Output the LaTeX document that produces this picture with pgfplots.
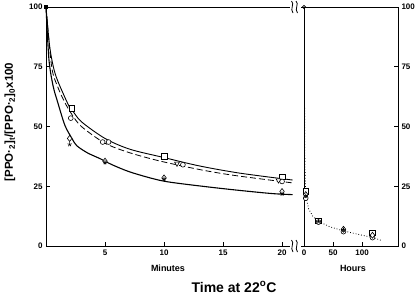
\documentclass[border=0pt]{standalone}
\usepackage{fontspec}
\setmainfont{Liberation Sans}
\usepackage{pgfplots}
\pgfplotsset{compat=1.18}
\pgfplotsset{
  common/.style={
    scale only axis, anchor=south west, height=239pt,
    ymin=0, ymax=100, ytick={0,25,50,75,100},
    tick align=inside, major tick length=4pt,
    tick style={black, line width=0.7pt},
    axis line style={line width=0.8pt},
    ticklabel style={font=\fontsize{8}{9}\selectfont\bfseries},
    /pgf/number format/assume math mode=true,
    xtick pos=bottom, clip=false,
    every axis plot/.append style={black},
  },
  mk/.style={only marks, mark size=2.8pt, mark options={solid, line width=0.6pt, fill=white}},
}
\begin{document}
\begin{tikzpicture}[x=1pt,y=1pt]
\path[use as bounding box] (0,0) rectangle (418,298);
\begin{axis}[common, at={(46pt,52pt)}, width=258pt,
  xmin=0, xmax=21.86, xtick={5,10,15,20}, ytick pos=left]
% upper solid curve
\addplot[line width=0.9pt, smooth, tension=0.5] coordinates {
 (0,100) (0.3,84) (0.62,75) (1,69) (1.9,59) (2.2,57) (3,52) (5,45) (7.1,40.5) (10,37) (13,33.5) (16.4,30.5) (20.9,27.6)};
% middle dashed curve
\addplot[line width=0.8pt, dash pattern=on 6pt off 3pt, smooth, tension=0.5] coordinates {
 (0,100) (0.48,75) (1,66.5) (1.6,60) (2.2,55) (3,50) (5,43) (7.1,39) (9.7,35.5) (13,32) (16,29.5) (20.9,26.4)};
% lower curve
\addplot[line width=1.1pt, smooth, tension=0.5] coordinates {
 (0,100) (0.25,78) (0.6,67) (1,60) (1.6,50.5) (2.2,45) (2.6,42) (3.5,39) (4.6,36.5) (5.6,34) (7.1,31) (9.2,28) (10.8,26.5) (15,24) (19,22) (20.9,21.5)};
% markers
\addplot[mk, mark=square*, mark size=1.6pt, mark options={fill=black}] coordinates {(0,100)};
\addplot[mk, mark=square*] coordinates {(2.2,57.5) (10,37.5) (20,29)};
\addplot[mk, mark=*, mark size=2.4pt] coordinates {(2.1,53.5) (4.8,43.5) (5.3,43.5) (11.6,34) (20,27)};
\addplot[mk, mark=triangle*, mark options={rotate=180, solid, fill=white, line width=0.6pt}] coordinates {(11.1,34.5) (19.7,27.5)};
\addplot[mk, mark=diamond*, mark size=3pt] coordinates {(2.0,45) (5,35.5) (10,28.5) (20,22.8)};
\addplot[mk, mark=star, mark size=2.2pt] coordinates {(2.0,42.5) (5,35) (10,28) (20,21.8)};
\end{axis}
\begin{axis}[common, at={(304pt,52pt)}, width=94pt,
  xmin=0, xmax=162, xtick={0,50,100}, ytick pos=right, yticklabel pos=right]
\addplot[line width=0.8pt, dotted] coordinates {
 (0.8,100) (1,60) (1.5,35) (3,21) (8,15.5) (15,12.5) (25,10.3) (45,8) (68,6.3) (95,4.8) (118,3.6) (135,2.2)};
\addplot[mk, mark=o, mark size=1.6pt] coordinates {(0,100)};
\addplot[mk, mark=square*] coordinates {(3,23) (25,10.5) (118,5.5)};
\addplot[mk, mark=*, mark size=2.4pt] coordinates {(3,20) (25,10) (68,6) (118,3.5)};
\addplot[mk, mark=diamond*, mark size=3pt] coordinates {(3,21.5) (68,7) (118,4.5)};
\addplot[mk, mark=star, mark size=2.2pt] coordinates {(3,21) (25,10.2) (68,6.8)};
\end{axis}
% axis breaks
\fill[white] (290,297) rectangle (301,285);
\fill[white] (290,58) rectangle (301,46);
\draw[line width=0.8pt] (291.5,297) .. controls (295,294) and (289.5,289) .. (293,285);
\draw[line width=0.8pt] (296,297) .. controls (299.5,294) and (294,289) .. (297.5,285);
\draw[line width=0.8pt] (291.5,58) .. controls (295,55) and (289.5,50) .. (293,46);
\draw[line width=0.8pt] (296,58) .. controls (299.5,55) and (294,50) .. (297.5,46);
% labels
\node[rotate=90, font=\fontsize{11.5}{14}\selectfont\bfseries] at (10,176)
  {[PPO·\textsubscript{2}]\textsubscript{t}/[PPO·\textsubscript{2}]\textsubscript{0}x100};
\node[font=\fontsize{9}{10}\selectfont\bfseries] at (168,30) {Minutes};
\node[font=\fontsize{9}{10}\selectfont\bfseries] at (353,30) {Hours};
\node[font=\fontsize{14}{16}\selectfont\bfseries] at (234,11) {Time at 22\textsuperscript{o}C};
\end{tikzpicture}
\end{document}
